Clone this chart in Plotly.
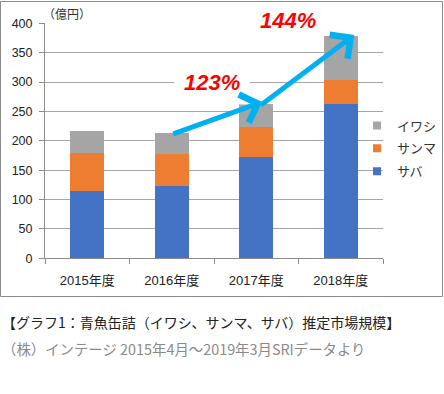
import plotly.graph_objects as go

W, H = 444, 394

categories = ["2015年度", "2016年度", "2017年度", "2018年度"]
saba = [114, 123, 173, 263]
sanma = [65, 55, 51, 41]
iwashi = [37, 35, 38, 75]
series_names = ["サバ", "サンマ", "イワシ"]
colors = ["#4472C4", "#ED7D31", "#A5A5A5"]
y_ticks = [0, 50, 100, 150, 200, 250, 300, 350, 400]
growth_labels = ["123%", "144%"]
unit_label = "（億円）"
caption = "【グラフ1：青魚缶詰（イワシ、サンマ、サバ）推定市場規模】"
source = "（株）インテージ 2015年4月～2019年3月SRIデータより"

FONT = "Liberation Sans, Arial, Noto Sans CJK JP, sans-serif"
JFONT = "Noto Sans CJK JP, Liberation Sans, sans-serif"

def px_x(p):
    return p / W

def px_y(p):
    return 1 - p / H

fig = go.Figure()
for name, vals, col in zip(series_names, [saba, sanma, iwashi], colors):
    fig.add_trace(go.Bar(x=categories, y=vals, name=name, marker_color=col,
                         marker_line_width=0, showlegend=False))

# legend entries (small squares), top to bottom
for name, col in zip(series_names[::-1], colors[::-1]):
    fig.add_trace(go.Scatter(x=[None], y=[None], mode="markers", name=name,
                             marker=dict(symbol="square", size=8, color=col),
                             legendgroup=name))

fig.update_layout(
    width=W, height=H,
    margin=dict(l=0, r=0, t=0, b=0),
    paper_bgcolor="white", plot_bgcolor="white",
    barmode="stack", bargap=0.6,
    font=dict(family=FONT, size=12, color="#333333"),
    xaxis=dict(domain=[px_x(45), px_x(383)], type="category",
               showline=True, linecolor="#8c8c8c", linewidth=1,
               ticks="outside", tickson="boundaries", ticklen=5,
               tickcolor="#8c8c8c", showgrid=False,
               tickfont=dict(family=FONT, size=13, color="#222222"),
               ticklabelstandoff=10, automargin=False, fixedrange=True),
    yaxis=dict(domain=[px_y(258.3), px_y(23.3)], range=[0, 400],
               tickvals=y_ticks, showline=True, linecolor="#8c8c8c",
               linewidth=1, ticks="outside", ticklen=5, tickcolor="#8c8c8c",
               showgrid=True, gridcolor="#a6a6a6", gridwidth=1,
               zeroline=False,
               tickfont=dict(family=FONT, size=12.5, color="#222222"),
               ticklabelstandoff=4, automargin=False, fixedrange=True),
    legend=dict(x=px_x(357), y=px_y(110.5), xanchor="left", yanchor="top",
                font=dict(family=JFONT, size=13, color="#333333"),
                bgcolor="rgba(0,0,0,0)", tracegroupgap=3,
                itemclick=False, itemdoubleclick=False),
    shapes=[dict(type="rect", xref="paper", yref="paper",
                 x0=px_x(0.5), x1=px_x(442.5), y0=px_y(296.5), y1=px_y(1.5),
                 line=dict(color="#8c8c8c", width=1), layer="above")],
)

annotations = [
    dict(text=unit_label, xref="paper", yref="paper", x=px_x(41), y=px_y(14),
         xanchor="left", yanchor="middle", showarrow=False,
         font=dict(family=JFONT, size=12, color="#333333")),
    dict(text=growth_labels[0], xref="paper", yref="paper", x=px_x(212), y=px_y(82),
         xanchor="center", yanchor="middle", showarrow=False, bgcolor="white",
         borderpad=9,
         font=dict(family="Liberation Sans, Arial", size=22, color="#FF0000",
                   weight="bold", style="italic")),
    dict(text=growth_labels[1], xref="paper", yref="paper", x=px_x(287.5), y=px_y(21),
         xanchor="center", yanchor="middle", showarrow=False, bgcolor="white",
         borderpad=1,
         font=dict(family="Liberation Sans, Arial", size=22, color="#FF0000",
                   weight="bold", style="italic")),
    dict(x=2.07, y=266, ax=1.0, ay=211, xref="x", yref="y", axref="x", ayref="y",
         text="", showarrow=True, arrowhead=4, arrowsize=1.15, arrowwidth=5,
         arrowcolor="#00B0F0"),
    dict(x=3.16, y=380, ax=2.04, ay=259, xref="x", yref="y", axref="x", ayref="y",
         text="", showarrow=True, arrowhead=4, arrowsize=1.15, arrowwidth=5,
         arrowcolor="#00B0F0"),
    dict(text=caption, xref="paper", yref="paper", x=0, y=px_y(322),
         xanchor="left", yanchor="middle", showarrow=False,
         font=dict(family=JFONT, size=14, color="#222222")),
    dict(text=source, xref="paper", yref="paper", x=0, y=px_y(348),
         xanchor="left", yanchor="middle", showarrow=False,
         font=dict(family=JFONT, size=14.4, color="#8a8a8a")),
]
fig.update_layout(annotations=annotations)

fig.write_html("out.html", config={"displayModeBar": False},
               post_script="document.body.style.margin='0';"
                           "document.body.style.overflow='hidden';")
